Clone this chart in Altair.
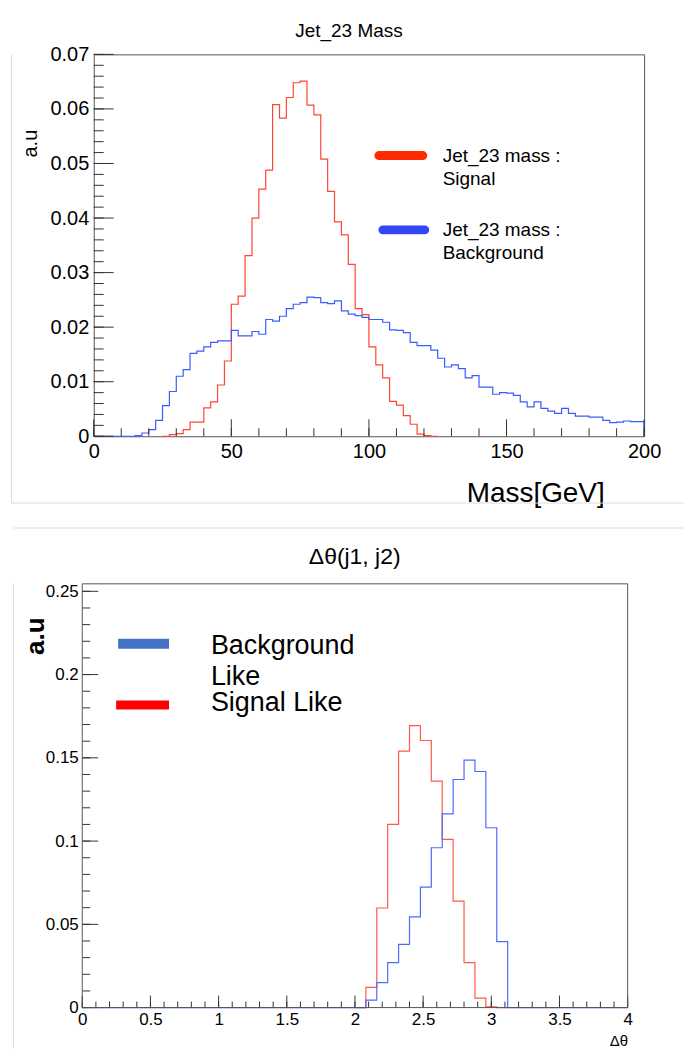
import altair as alt
import pandas as pd

FONT = "Liberation Sans"

# ---------------- Top panel: Jet_23 mass (2.5 GeV bins) ----------------
mass_bin_width = 2.5
mass_bkg_first_edge = 0.0
mass_bkg = [0, 0, 0, 0, 0, 0,
            0.0001, 0.0006, 0.0012, 0.0029, 0.0056, 0.0082, 0.0110, 0.0122, 0.0152, 0.0156,
            0.0164, 0.0172, 0.0175, 0.0175, 0.0194, 0.0184, 0.0184, 0.0192, 0.0187, 0.0214,
            0.0211, 0.0220, 0.0234, 0.0242, 0.0245, 0.0255, 0.0254, 0.0245, 0.0243, 0.0248,
            0.0230, 0.0224, 0.0221, 0.0218, 0.0214, 0.0214, 0.0209, 0.0195, 0.0194, 0.0190,
            0.0172, 0.0166, 0.0166, 0.0158, 0.0143, 0.0127, 0.0131, 0.0124, 0.0107, 0.0111,
            0.0090, 0.0090, 0.0077, 0.0080, 0.0079, 0.0075, 0.0063, 0.0054, 0.0063, 0.0051,
            0.0046, 0.0042, 0.0051, 0.0042, 0.0037, 0.0037, 0.0035, 0.0035, 0.0029, 0.0025,
            0.0026, 0.0028, 0.0027, 0.0027]
mass_sig_first_edge = 25.0
mass_sig = [0, 0.0003, 0.0005, 0.0012, 0.0026, 0.0026, 0.0052, 0.0063, 0.0094, 0.0138,
            0.0242, 0.0257, 0.0331, 0.0400, 0.0453, 0.0488, 0.0608, 0.0583, 0.0621, 0.0648,
            0.0651, 0.0607, 0.0589, 0.0508, 0.0449, 0.0393, 0.0369, 0.0315, 0.0234, 0.0223,
            0.0164, 0.0131, 0.0107, 0.0064, 0.0057, 0.0038, 0.0022, 0.0004, 0.0001, 0]
mass_x_labels = [0, 50, 100, 150, 200]
mass_x_minor = [0, 10, 20, 30, 40, 50, 60, 70, 80, 90, 100, 110, 120, 130, 140, 150,
                160, 170, 180, 190, 200]
mass_y_labels = [0, 0.01, 0.02, 0.03, 0.04, 0.05, 0.06, 0.07]
mass_y_minor = [round(i * 0.002, 3) for i in range(36)]
mass_legend_labels = ["Jet_23 mass :\nSignal", "Jet_23 mass :\nBackground"]
mass_legend_colors = ["#FF2A00", "#3348F5"]
mass_line_colors = ["#FF4530", "#3A5BFF"]

# ---------------- Bottom panel: delta theta (0.08 bins) ----------------
theta_bin_width = 0.08
theta_bkg_first_edge = 0.0
theta_bkg = [0] * 26 + [0.0045, 0.015, 0.027, 0.038, 0.0545, 0.0724, 0.096, 0.1163,
                        0.137, 0.1486, 0.1418, 0.108, 0.0396] + [0] * 11
theta_sig_first_edge = 2.0
theta_sig = [0, 0.0122, 0.0598, 0.110, 0.154, 0.1694, 0.1604, 0.136, 0.101, 0.064,
             0.027, 0.0057, 0.0004, 0]
theta_x_labels = [0, 0.5, 1, 1.5, 2, 2.5, 3, 3.5, 4]
theta_x_minor = [round(i * 0.1, 2) for i in range(41)]
theta_y_labels = [0, 0.05, 0.1, 0.15, 0.2, 0.25]
theta_y_minor = [round(i * 0.01, 2) for i in range(26)]
theta_legend_labels = ["Background\nLike", "Signal Like"]
theta_legend_colors = ["#4472C4", "#FF0000"]
theta_line_colors = ["#FF5A4A", "#4D6BFF"]


def hist_steps(first_edge, width, counts):
    xs = [round(first_edge + i * width, 6) for i in range(len(counts) + 1)]
    ys = list(counts) + [0.0]
    return pd.DataFrame({"x": xs, "y": ys})


def hist_line(df, color, xs, ys, xaxis, yaxis, sw=1.2):
    return alt.Chart(df).mark_line(interpolate="step-after", color=color, strokeWidth=sw).encode(
        x=alt.X("x:Q", scale=xs, axis=xaxis),
        y=alt.Y("y:Q", scale=ys, axis=yaxis),
    )


def y_ticks(values, ys, yaxis, x0, length, color="#333"):
    return alt.Chart(pd.DataFrame({"v": values})).mark_rule(color=color, strokeWidth=1).encode(
        y=alt.Y("v:Q", scale=ys, axis=yaxis), x=alt.value(x0), x2=alt.value(x0 + length))


def x_ticks(values, xs, xaxis, length, height, color="#333"):
    return alt.Chart(pd.DataFrame({"v": values})).mark_rule(color=color, strokeWidth=1).encode(
        x=alt.X("v:Q", scale=xs, axis=xaxis), y=alt.value(height), y2=alt.value(height - length))


def swatch(color, x1, x2, y, width, cap):
    return alt.Chart(pd.DataFrame({"c": [color]})).mark_rule(
        color=color, strokeWidth=width, strokeCap=cap).encode(
        x=alt.value(x1), x2=alt.value(x2), y=alt.value(y))


def legend_text(label, x, y, size, lh):
    return alt.Chart(pd.DataFrame({"label": [label]})).mark_text(
        align="left", baseline="alphabetic", fontSize=size, lineHeight=lh,
        lineBreak="\n", font=FONT, color="black").encode(
        x=alt.value(x), y=alt.value(y), text="label:N")


def rule(x1, x2, y1, y2, color="#dddddd"):
    return alt.Chart(pd.DataFrame({"b": [0]})).mark_rule(color=color, strokeWidth=1).encode(
        x=alt.value(x1), x2=alt.value(x2), y=alt.value(y1), y2=alt.value(y2))


# ---------------- Build top panel ----------------
W1, H1 = 552, 383
xs1 = alt.Scale(domain=[0, 200], nice=False, zero=False)
ys1 = alt.Scale(domain=[0, 0.07], nice=False)

top_x_axis = alt.Axis(values=mass_x_labels, ticks=False, domain=False, grid=False,
                      labelFontSize=20, labelPadding=5, labelFlush=False,
                      title="Mass[GeV]", titleFontSize=28, titleFontWeight="normal",
                      titleAlign="right", titleX=512, titleY=65, titleBaseline="alphabetic")
top_y_axis = alt.Axis(values=mass_y_labels, ticks=False, domain=False, grid=False,
                      labelExpr="datum.value == 0 ? '0' : format(datum.value, '.2f')",
                      labelFontSize=20, labelPadding=5, labelFlush=False,
                      title="a.u", titleFontSize=20, titleFontWeight="normal",
                      titleAngle=270, titleAlign="center", titleBaseline="alphabetic",
                      titleX=-57, titleY=89)

top = alt.layer(
    hist_line(hist_steps(mass_sig_first_edge, mass_bin_width, mass_sig), mass_line_colors[0],
              xs1, ys1, top_x_axis, top_y_axis),
    hist_line(hist_steps(mass_bkg_first_edge, mass_bin_width, mass_bkg), mass_line_colors[1],
              xs1, ys1, top_x_axis, top_y_axis),
    y_ticks(mass_y_minor, ys1, top_y_axis, 0, 10),
    y_ticks(mass_y_labels, ys1, top_y_axis, 0, 20),
    x_ticks(mass_x_minor, xs1, top_x_axis, 8, H1),
    x_ticks(mass_x_labels, xs1, top_x_axis, 17, H1),
    rule(-82.5, -82.5, 0, 450),
    rule(-82.5, 591.5, 450, 450),
    rule(-80.5, 591.5, 475, 475),
    swatch(mass_legend_colors[0], 286, 330, 101.5, 9, "round"),
    legend_text(mass_legend_labels[0], 350, 107.7, 19, 23),
    swatch(mass_legend_colors[1], 290, 332, 176, 9, "round"),
    legend_text(mass_legend_labels[1], 350, 181.7, 19, 24),
).properties(
    width=W1, height=H1,
    title=alt.TitleParams("Jet_23 Mass", fontSize=19, fontWeight="normal", anchor="middle",
                          dx=-20, offset=3),
)

# ---------------- Build bottom panel ----------------
# the bottom frame starts 11.5 px left of the top one: the view is aligned with the
# top panel, so the x range starts before the view origin and the frame is drawn by rules
SHIFT = -11.5
W2, H2 = 535.5, 425
xs2 = alt.Scale(domain=[0, 4], nice=False, zero=False, range=[SHIFT, W2])
ys2 = alt.Scale(domain=[0, 0.2545], nice=False)

bot_x_axis = alt.Axis(values=theta_x_labels, format="~g", ticks=False, domain=False, grid=False,
                      labelFontSize=17, labelPadding=4, labelFlush=False,
                      title="Δθ", titleFontSize=15, titleFontWeight="normal",
                      titleAlign="right", titleX=W2, titleY=38, titleBaseline="alphabetic")
bot_y_axis = alt.Axis(values=theta_y_labels, format="~g", ticks=False, domain=False, grid=False,
                      labelFontSize=17, labelPadding=4, labelFlush=False, offset=-SHIFT,
                      title="a.u", titleFontSize=26, titleFontWeight="bold",
                      titleAngle=270, titleAlign="center", titleBaseline="alphabetic",
                      titleX=-39, titleY=52)

FRAME = "#555555"
bottom = alt.layer(
    hist_line(hist_steps(theta_sig_first_edge, theta_bin_width, theta_sig), theta_line_colors[0],
              xs2, ys2, bot_x_axis, bot_y_axis),
    hist_line(hist_steps(theta_bkg_first_edge, theta_bin_width, theta_bkg), theta_line_colors[1],
              xs2, ys2, bot_x_axis, bot_y_axis),
    y_ticks(theta_y_minor, ys2, bot_y_axis, SHIFT, 8),
    y_ticks(theta_y_labels, ys2, bot_y_axis, SHIFT, 16),
    x_ticks(theta_x_minor, xs2, bot_x_axis, 6, H2),
    x_ticks(theta_x_labels, xs2, bot_x_axis, 12, H2),
    rule(SHIFT, SHIFT, 0, H2, FRAME),
    rule(W2, W2, 0, H2, FRAME),
    rule(SHIFT, W2, 0, 0, FRAME),
    rule(SHIFT, W2, H2, H2, FRAME),
    rule(-80.5, -80.5, 0, 466),
    swatch(theta_legend_colors[0], 36 + SHIFT, 87 + SHIFT, 60, 10, "butt"),
    legend_text(theta_legend_labels[0], 129 + SHIFT, 70, 27, 31),
    swatch(theta_legend_colors[1], 34 + SHIFT, 87 + SHIFT, 121.5, 9, "butt"),
    legend_text(theta_legend_labels[1], 129 + SHIFT, 128, 27, 31),
).properties(
    width=W2, height=H2,
    view=alt.ViewBackground(stroke="transparent"),
    title=alt.TitleParams("Δθ(j1, j2)", fontSize=23, fontWeight="normal", anchor="middle",
                          dx=-6, offset=13),
)

chart = alt.vconcat(top, bottom, spacing=17).properties(
    padding={"left": 10, "top": 20, "right": 0, "bottom": 0},
).configure_view(
    stroke=FRAME, strokeWidth=1,
).configure_axis(
    labelFont=FONT, titleFont=FONT, labelColor="black", titleColor="black",
).configure_title(
    font=FONT, color="black",
).configure_text(font=FONT)

chart.save("out.html", embed_options={"renderer": "svg", "actions": False})
